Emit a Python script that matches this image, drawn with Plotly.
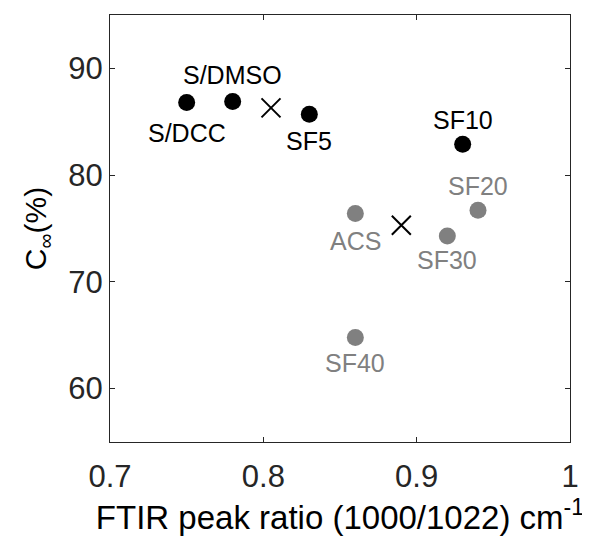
import plotly.graph_objects as go

# data
black_names = ["S/DCC", "S/DMSO", "SF5", "SF10"]
black_x = [0.75, 0.78, 0.83, 0.93]
black_y = [86.8, 86.9, 85.7, 82.9]

gray_names = ["ACS", "SF20", "SF30", "SF40"]
gray_x = [0.86, 0.94, 0.92, 0.86]
gray_y = [76.4, 76.7, 74.3, 64.8]

mean_x = [0.805, 0.89]
mean_y = [86.3, 75.3]

x_ticks = [0.7, 0.8, 0.9, 1.0]
x_ticklabels = ["0.7", "0.8", "0.9", "1"]
y_ticks = [60, 70, 80, 90]

# label offsets (pixels, vertical)
black_shift = [-30, 26, -27, 24]
gray_shift = [-27, 24, -24, -26]

BLACK = "#000000"
GRAY = "#808080"
FONT = "Liberation Sans, Arial, sans-serif"

fig = go.Figure()
fig.add_trace(go.Scatter(x=black_x, y=black_y, mode="markers",
                         marker=dict(color=BLACK, size=17), showlegend=False))
fig.add_trace(go.Scatter(x=gray_x, y=gray_y, mode="markers",
                         marker=dict(color=GRAY, size=17), showlegend=False))
fig.add_trace(go.Scatter(x=mean_x, y=mean_y, mode="markers",
                         marker=dict(symbol="x-thin", size=19, color=BLACK,
                                     line=dict(color=BLACK, width=2)),
                         showlegend=False))

for n, x, y, s in zip(black_names, black_x, black_y, black_shift):
    fig.add_annotation(x=x, y=y, text=n, showarrow=False, yshift=s,
                       font=dict(family=FONT, size=25, color=BLACK))
for n, x, y, s in zip(gray_names, gray_x, gray_y, gray_shift):
    fig.add_annotation(x=x, y=y, text=n, showarrow=False, yshift=s,
                       font=dict(family=FONT, size=25, color=GRAY))

axis_common = dict(showline=True, linecolor="#262626", linewidth=1, mirror="ticks",
                   ticks="inside", ticklen=5, tickcolor="#262626", showgrid=False,
                   zeroline=False, tickfont=dict(family=FONT, size=31, color="#262626"))

fig.update_xaxes(range=[0.7, 1.0], tickvals=x_ticks, ticktext=x_ticklabels,
                 ticklabelstandoff=7,
                 title=dict(text="FTIR peak ratio (1000/1022) cm<sup>-1</sup>",
                            font=dict(family=FONT, size=33, color="#000000"), standoff=9),
                 **axis_common)
fig.update_yaxes(range=[55, 95], tickvals=y_ticks,
                 title=dict(text="C<sub>∞</sub>(%)",
                            font=dict(family=FONT, size=30, color="#000000"), standoff=12),
                 **axis_common)

fig.update_layout(width=590, height=542, margin=dict(l=102, r=28, t=7, b=108),
                  plot_bgcolor="white", paper_bgcolor="white")

fig.write_html("out.html")
